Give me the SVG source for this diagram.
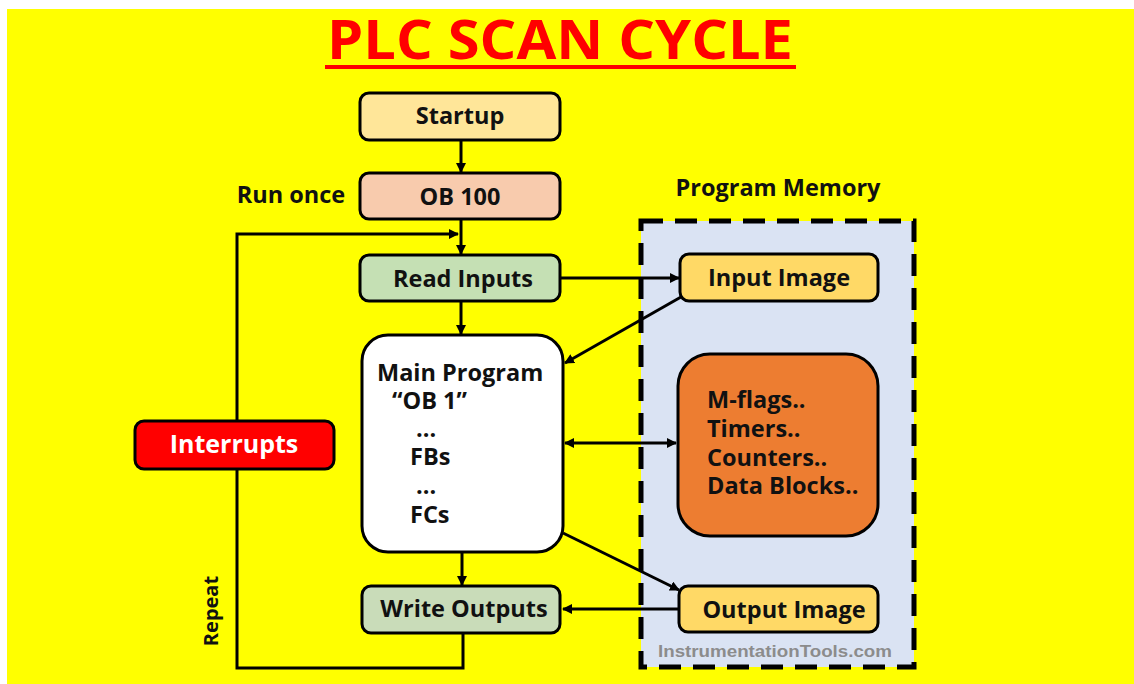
<svg xmlns="http://www.w3.org/2000/svg" width="1134" height="684" viewBox="0 0 1134 684">
<defs>
<marker id="ah" viewBox="0 0 10 10" refX="9" refY="5" markerWidth="10" markerHeight="10" markerUnits="userSpaceOnUse" orient="auto-start-reverse">
<path d="M0,0 L10,5 L0,10 z" fill="#000"/>
</marker>
<style>
.box{stroke:#000;stroke-width:3}
.t{font-family:"Open Sans","Liberation Sans",sans-serif;font-weight:bold;fill:#111;font-size:23.5px}
.c{stroke:#000;stroke-width:3;fill:none}
</style>
</defs>
<rect x="0" y="0" width="1134" height="684" fill="#fff"/>
<rect x="7" y="9" width="1127" height="675" fill="#ffff00"/>
<g id="title">
<text x="560" y="59" text-anchor="middle" font-family="'Open Sans','Liberation Sans',sans-serif" font-weight="bold" font-size="54" fill="#f00" textLength="466" lengthAdjust="spacingAndGlyphs">PLC SCAN CYCLE</text>
<rect x="325" y="65" width="471" height="4" fill="#f00"/>
</g>
<g id="memory">
<rect x="641" y="221" width="273" height="446" fill="#dae3f3" stroke="#000" stroke-width="5" stroke-dasharray="22,12"/>
<text x="778" y="196" text-anchor="middle" class="t">Program Memory</text>
<text x="775" y="657" text-anchor="middle" font-family="'Liberation Sans',Arial,sans-serif" font-weight="bold" font-size="17" fill="#8c8c8c" textLength="234" lengthAdjust="spacingAndGlyphs">InstrumentationTools.com</text>
</g>
<g id="connectors">
<line class="c" x1="461" y1="141" x2="461" y2="172" marker-end="url(#ah)"/>
<line class="c" x1="461" y1="220" x2="461" y2="254" marker-end="url(#ah)"/>
<polyline class="c" points="463,634 463,668 237,668 237,234 458,234" marker-end="url(#ah)"/>
<line class="c" x1="461" y1="302" x2="461" y2="334" marker-end="url(#ah)"/>
<line class="c" x1="462" y1="553" x2="462" y2="585" marker-end="url(#ah)"/>
<line class="c" x1="561" y1="278" x2="679" y2="278" marker-end="url(#ah)"/>
<line class="c" x1="681" y1="297" x2="565" y2="363" marker-end="url(#ah)"/>
<line class="c" x1="565" y1="443" x2="676" y2="443" marker-start="url(#ah)" marker-end="url(#ah)"/>
<line class="c" x1="563" y1="533" x2="679" y2="590" marker-end="url(#ah)"/>
<line class="c" x1="679" y1="609" x2="563" y2="609" marker-end="url(#ah)"/>
</g>
<g id="startup">
<rect class="box" x="360" y="93" width="200" height="47" rx="9" fill="#ffe699"/>
<text x="460" y="124" text-anchor="middle" class="t">Startup</text>
</g>
<g id="ob100">
<rect class="box" x="360" y="173" width="200" height="46" rx="9" fill="#f8cbad"/>
<text x="460" y="205" text-anchor="middle" class="t">OB 100</text>
<text x="291" y="203" text-anchor="middle" class="t">Run once</text>
</g>
<g id="read-inputs">
<rect class="box" x="360" y="255" width="200" height="46" rx="9" fill="#c5e0b4"/>
<text x="463" y="287" text-anchor="middle" class="t">Read Inputs</text>
</g>
<g id="main-program">
<rect class="box" x="362" y="335" width="201" height="217" rx="26" fill="#fff"/>
<text class="t">
<tspan x="377" y="381">Main Program</tspan>
<tspan x="392" y="409">“OB 1”</tspan>
<tspan x="416" y="437">...</tspan>
<tspan x="410" y="465">FBs</tspan>
<tspan x="416" y="494">...</tspan>
<tspan x="410" y="523">FCs</tspan>
</text>
</g>
<g id="write-outputs">
<rect class="box" x="362" y="586" width="198" height="47" rx="9" fill="#c9dcb9"/>
<text x="464" y="617" text-anchor="middle" class="t">Write Outputs</text>
</g>
<g id="interrupts">
<rect class="box" x="135" y="421" width="199" height="48" rx="9" fill="#ff0000"/>
<text x="234" y="453" text-anchor="middle" class="t" style="fill:#fff;font-size:25px">Interrupts</text>
</g>
<g id="repeat">
<text x="0" y="0" transform="translate(218,611) rotate(-90)" text-anchor="middle" class="t" style="font-size:20px">Repeat</text>
</g>
<g id="input-image">
<rect class="box" x="680" y="254" width="198" height="47" rx="9" fill="#ffd966"/>
<text x="779" y="286" text-anchor="middle" class="t">Input Image</text>
</g>
<g id="memory-blocks">
<rect class="box" x="678" y="354" width="200" height="182" rx="32" fill="#ed7d31"/>
<text class="t">
<tspan x="707" y="408">M-flags..</tspan>
<tspan x="707" y="437">Timers..</tspan>
<tspan x="707" y="466">Counters..</tspan>
<tspan x="707" y="494">Data Blocks..</tspan>
</text>
</g>
<g id="output-image">
<rect class="box" x="679" y="586" width="199" height="46" rx="9" fill="#ffd966"/>
<text x="784" y="618" text-anchor="middle" class="t">Output Image</text>
</g>
</svg>
